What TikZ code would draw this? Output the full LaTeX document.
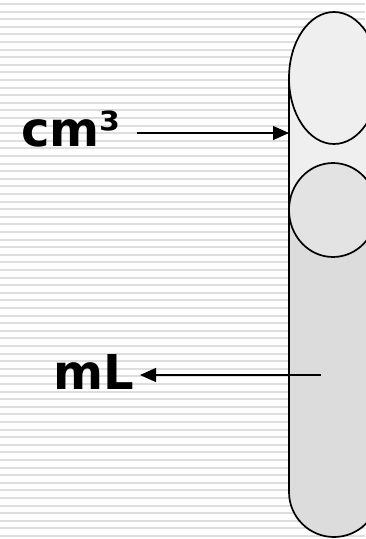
\documentclass[tikz,border=0pt]{standalone}
\usepackage{fontspec}
\setmainfont{DejaVu Sans}
\usetikzlibrary{arrows.meta}
\definecolor{stripe}{HTML}{DEDEDE}
\definecolor{tubetop}{HTML}{EFEFEF}
\definecolor{tubelow}{HTML}{DCDCDC}
\definecolor{bulb}{HTML}{E3E3E3}
\tikzset{
  outline/.style={draw=black,line width=1.7pt},
  lbl/.style={font=\fontsize{48}{50}\selectfont\bfseries,inner sep=0pt,anchor=base west},
  conn/.style={line width=1.3pt,-{Triangle[length=16pt,width=14pt]}}
}
\begin{document}
\begin{tikzpicture}[x=1pt,y=-1pt]
\useasboundingbox (0,0) rectangle (365,539);
\fill[white] (0,0) rectangle (365,539);
\foreach \k in {0,...,70}{
  \fill[stripe] (0,{3+7.6*\k}) rectangle (365,{5+7.6*\k});
}
% tube body
\fill[tubetop] (289,78) rectangle (379,210);
\fill[tubelow] (289,210) -- (289,492) arc[start angle=180,end angle=0,radius=45] -- (379,210) -- cycle;
\draw[outline] (289,78) -- (289,492) arc[start angle=180,end angle=0,radius=45] -- (379,78);
% top bulb
\draw[outline,fill=tubetop] (334,78) ellipse[x radius=45,y radius=66];
% second bulb
\draw[outline,fill=bulb] (333,210) ellipse[x radius=44,y radius=47];
% labels
\node[lbl] (cm) at (21,146) {cm³};
\node[lbl] (ml) at (53,389) {mL};
\coordinate (tubeedge) at (289,133);
\coordinate (inside) at (321,375);
\draw[conn] (cm.east |- tubeedge) ++(16,0) -- (tubeedge);
\draw[conn] (inside) -- ([xshift=6pt]ml.east |- inside);
\end{tikzpicture}
\end{document}
